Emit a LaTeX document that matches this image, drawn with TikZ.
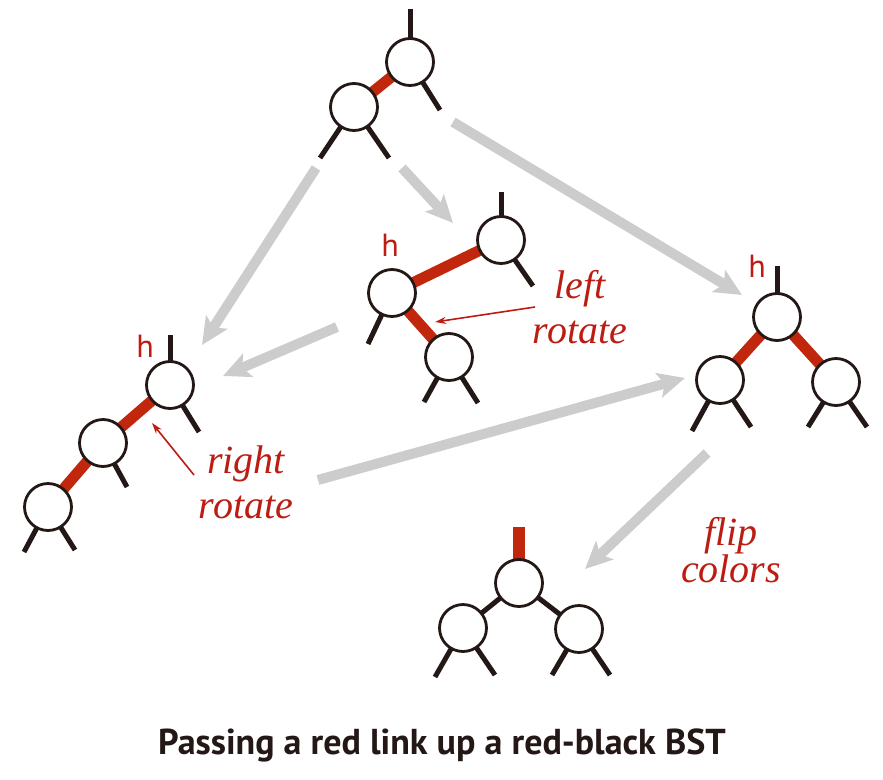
\documentclass[tikz,border=0pt]{standalone}
\usepackage{fontspec}
\setmainfont{Liberation Serif}
\newfontfamily\labelfont{PT Sans}
\usetikzlibrary{arrows.meta,backgrounds}
\definecolor{linkred}{RGB}{193,39,13}
\definecolor{textred}{RGB}{188,28,18}
\definecolor{linkblack}{RGB}{35,24,21}
\definecolor{arrowgray}{RGB}{204,204,204}

\begin{document}
\begin{tikzpicture}[x=1pt,y=-1pt]
\tikzset{
    key/.style={
           circle,
           draw=linkblack,
           line width=2.8pt,
           fill=white,
           minimum size=47pt,
           inner sep=0pt},
    blacklink/.style={draw=linkblack, line width=5pt},
    redlink/.style={draw=linkred, line width=11pt},
    hlabel/.style={
           anchor=base,
           text=textred,
           font=\labelfont\fontsize{32}{34}\selectfont},
    explanation/.style={
           text=textred,
           align=center,
           font=\itshape\fontsize{40}{45}\selectfont},
    % Define arrow style
    arrow/.style={
           draw=arrowgray,
           line width=10pt,
           -{Stealth[length=27pt,width=25pt,inset=6pt]}},
    pointer/.style={
           draw=textred,
           line width=1.6pt,
           -{Stealth[length=11pt,width=7pt]}}
}
\useasboundingbox (0,0) rectangle (883,779);
% top tree
\node[key] (topa) at (410,62) {};
\node[key] (topb) at (354,107) {};
% middle tree
\node[key] (mida) at (501,240) {};
\node[key] (midh) at (392,293) {};
\node[key] (midc) at (449,357) {};
\node[hlabel] (midhl) at (390,256) {h};
% left tree
\node[key] (lefth) at (170,385) {};
\node[key] (leftb) at (103,443) {};
\node[key] (leftc) at (48,507) {};
\node[hlabel] (lefthl) at (145,357) {h};
% right tree
\node[key] (righth) at (777,317) {};
\node[key] (rightb) at (720,380) {};
\node[key] (rightc) at (836,382) {};
\node[hlabel] (righthl) at (757,277) {h};
% bottom tree
\node[key] (bota) at (519,583) {};
\node[key] (botb) at (463,628) {};
\node[key] (botc) at (579,629) {};
\begin{scope}[on background layer]
\draw[redlink] (topb.center) -- (topa.center);
\draw[blacklink] (topa.center) -- ++(0,-53);
\draw[blacklink] (topa.center) -- ++(30,48);
\draw[blacklink] (topb.center) -- ++(-34,51);
\draw[blacklink] (topb.center) -- ++(35,51);
\draw[redlink] (midh.center) -- (mida.center);
\draw[redlink] (midh.center) -- (midc.center);
\draw[blacklink] (mida.center) -- ++(0,-48);
\draw[blacklink] (mida.center) -- ++(32,46);
\draw[blacklink] (midh.center) -- ++(-24,51);
\draw[blacklink] (midc.center) -- ++(-25,45);
\draw[blacklink] (midc.center) -- ++(29,46);
\draw[redlink] (lefth.center) -- (leftb.center);
\draw[redlink] (leftb.center) -- (leftc.center);
\draw[blacklink] (lefth.center) -- ++(0,-50);
\draw[blacklink] (lefth.center) -- ++(29,47);
\draw[blacklink] (leftb.center) -- ++(24,44);
\draw[blacklink] (leftc.center) -- ++(-24,45);
\draw[blacklink] (leftc.center) -- ++(27,43);
\draw[redlink] (righth.center) -- (rightb.center);
\draw[redlink] (righth.center) -- (rightc.center);
\draw[blacklink] (righth.center) -- ++(0,-51);
\draw[blacklink] (rightb.center) -- ++(-28,51);
\draw[blacklink] (rightb.center) -- ++(31,47);
\draw[blacklink] (rightc.center) -- ++(-28,45);
\draw[blacklink] (rightc.center) -- ++(31,45);
\draw[redlink,line width=12pt] (bota.center) -- ++(0,-56);
\draw[blacklink] (bota.center) -- (botb.center);
\draw[blacklink] (bota.center) -- (botc.center);
\draw[blacklink] (botb.center) -- ++(-28,49);
\draw[blacklink] (botb.center) -- ++(32,47);
\draw[blacklink] (botc.center) -- ++(-27,46);
\draw[blacklink] (botc.center) -- ++(31,46);
\end{scope}
% labels
\node[explanation] (leftrot) at (580,307) {left\\rotate};
\node[explanation] (rightrot) at (246,482) {right\\rotate};
\node[explanation,font=\itshape\fontsize{40}{36}\selectfont] (flip) at (731,550) {flip\\colors};
\node[anchor=base,text=linkblack,font=\labelfont\bfseries\fontsize{36}{38}\selectfont] (caption) at (442,754) {Passing a red link up a red-black BST};
% arrow ends
\coordinate (topout1) at (316,168);
\coordinate (leftin1) at (202,345);
\coordinate (topout2) at (402,168);
\coordinate (midin) at (453,223);
\coordinate (topout3) at (453,122);
\coordinate (rightin1) at (742,295);
\coordinate (midout) at (337,327);
\coordinate (leftin2) at (223,376);
\coordinate (leftout) at (318,480);
\coordinate (rightin2) at (685,378);
\coordinate (rightout) at (707,453);
\coordinate (botin) at (585,569);
\draw[arrow] (topout1) -- (leftin1);
\draw[arrow] (topout2) -- (midin);
\draw[arrow] (topout3) -- (rightin1);
\draw[arrow] (midout) -- (leftin2);
\draw[arrow] (leftout) -- (rightin2);
\draw[arrow] (rightout) -- (botin);
% rotation pointers
\coordinate (leftfrom) at (535,307);
\coordinate (leftto) at (435,322);
\coordinate (rightfrom) at (194,475);
\coordinate (rightto) at (152,423);
\draw[pointer] (leftfrom) -- (leftto);
\draw[pointer] (rightfrom) -- (rightto);
\end{tikzpicture}
\end{document}
